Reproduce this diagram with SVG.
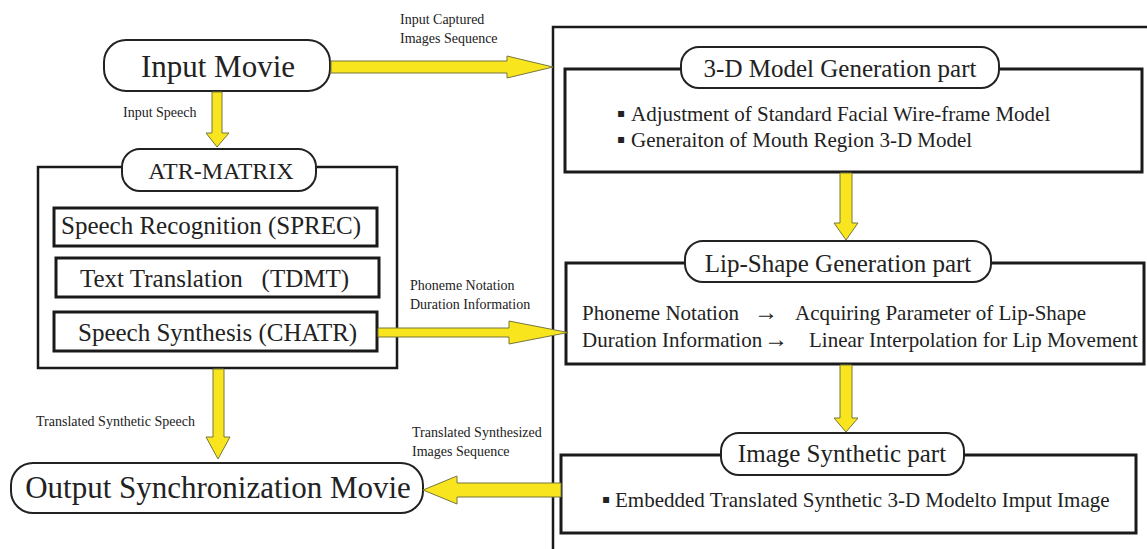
<svg xmlns="http://www.w3.org/2000/svg" width="1147" height="549" viewBox="0 0 1147 549">
<style>
text{font-family:"Liberation Serif","Times New Roman",serif;fill:#222}
.pill{fill:#fff;stroke:#222;stroke-width:2}
.box{fill:#fff;stroke:#1a1a1a;stroke-width:3}
.frame{fill:none;stroke:#1a1a1a;stroke-width:2.5}
.arrow{fill:#f8e51e;stroke:#77773c;stroke-width:1}
.lbl{font-size:14px}
.big{font-size:31px}
.mid{font-size:25px}
.body{font-size:21px}
.ar{font-size:24px}
.b{font-family:"DejaVu Sans",sans-serif;font-size:12px}
</style>
<rect width="1147" height="549" fill="#fff"/>
<path class="frame" d="M553,549 V27 H1147"/>
<g id="atr-frame"><rect class="frame" x="38" y="167" width="359" height="201"/></g>
<g id="input-movie">
<rect class="pill" x="104" y="40" width="226" height="51" rx="22"/>
<text class="big" x="218" y="77" text-anchor="middle">Input Movie</text>
</g>
<g id="atr-matrix">
<rect class="pill" x="122" y="149" width="194" height="42" rx="18"/>
<text x="221" y="179" text-anchor="middle" style="font-size:24px">ATR-MATRIX</text>
</g>
<g id="sprec">
<rect class="box" x="54" y="208" width="323" height="38"/>
<text class="mid" x="61" y="234">Speech Recognition (SPREC)</text>
</g>
<g id="tdmt">
<rect class="box" x="56" y="258" width="323" height="39"/>
<text class="mid" x="80" y="287" xml:space="preserve">Text Translation   (TDMT)</text>
</g>
<g id="chatr">
<rect class="box" x="54" y="312" width="323" height="39"/>
<text class="mid" x="78" y="341">Speech Synthesis (CHATR)</text>
</g>
<g id="output-movie">
<rect class="pill" x="11" y="463" width="412" height="50" rx="22"/>
<text class="big" x="218" y="498" text-anchor="middle">Output Synchronization Movie</text>
</g>
<g id="model-3d">
<rect class="box" x="565" y="69" width="577" height="103"/>
<rect class="pill" x="681" y="47" width="318" height="41" rx="18"/>
<text class="mid" x="840" y="77" text-anchor="middle">3-D Model Generation part</text>
<text class="b" x="617" y="117">▪</text>
<text class="body" x="631" y="121">Adjustment of Standard Facial Wire-frame Model</text>
<text class="b" x="617" y="143">▪</text>
<text class="body" x="631" y="147">Generaiton of Mouth Region 3-D Model</text>
</g>
<g id="lip-shape">
<rect class="box" x="566" y="263" width="578" height="101"/>
<rect class="pill" x="685" y="241" width="306" height="41" rx="18"/>
<text class="mid" x="838" y="272" text-anchor="middle">Lip-Shape Generation part</text>
<text class="body" x="582" y="320">Phoneme Notation</text>
<text class="ar" x="754" y="320">→</text>
<text class="body" x="795" y="320">Acquiring Parameter of Lip-Shape</text>
<text class="body" x="582" y="347">Duration Information</text>
<text class="ar" x="764" y="347">→</text>
<text class="body" x="809" y="347">Linear Interpolation for Lip Movement</text>
</g>
<g id="image-synthetic">
<rect class="box" x="561" y="455" width="575" height="78"/>
<rect class="pill" x="721" y="433" width="243" height="42" rx="18"/>
<text class="mid" x="842" y="462" text-anchor="middle">Image Synthetic part</text>
<text class="b" x="602" y="503">▪</text>
<text class="body" x="615" y="507">Embedded Translated Synthetic 3-D Modelto Imput Image</text>
</g>
<g id="connectors">
<polygon class="arrow" points="331,61 507,61 507,56 553,67 507,78 507,73 331,73"/>
<polygon class="arrow" points="212,92 222,92 222,133 229,133 217,147 206,133 212,133"/>
<polygon class="arrow" points="213,369 224,369 224,437 230,437 218,459 206,437 213,437"/>
<polygon class="arrow" points="378,328 509,328 509,321 568,332.5 509,344 509,337 378,337"/>
<polygon class="arrow" points="840,173 852,173 852,223 858,223 846,240 834,223 840,223"/>
<polygon class="arrow" points="840,365 852,365 852,418 858,418 846,432 834,418 840,418"/>
<polygon class="arrow" points="561,483 457,483 457,476 423,490 457,504 457,497 561,497"/>
<text class="lbl" x="400" y="24">Input Captured</text>
<text class="lbl" x="400" y="43">Images Sequence</text>
<text class="lbl" x="123" y="117">Input Speech</text>
<text class="lbl" x="410" y="290">Phoneme Notation</text>
<text class="lbl" x="410" y="309">Duration Information</text>
<text class="lbl" x="36" y="426">Translated Synthetic Speech</text>
<text class="lbl" x="412" y="437">Translated Synthesized</text>
<text class="lbl" x="412" y="456">Images Sequence</text>
</g>
</svg>
